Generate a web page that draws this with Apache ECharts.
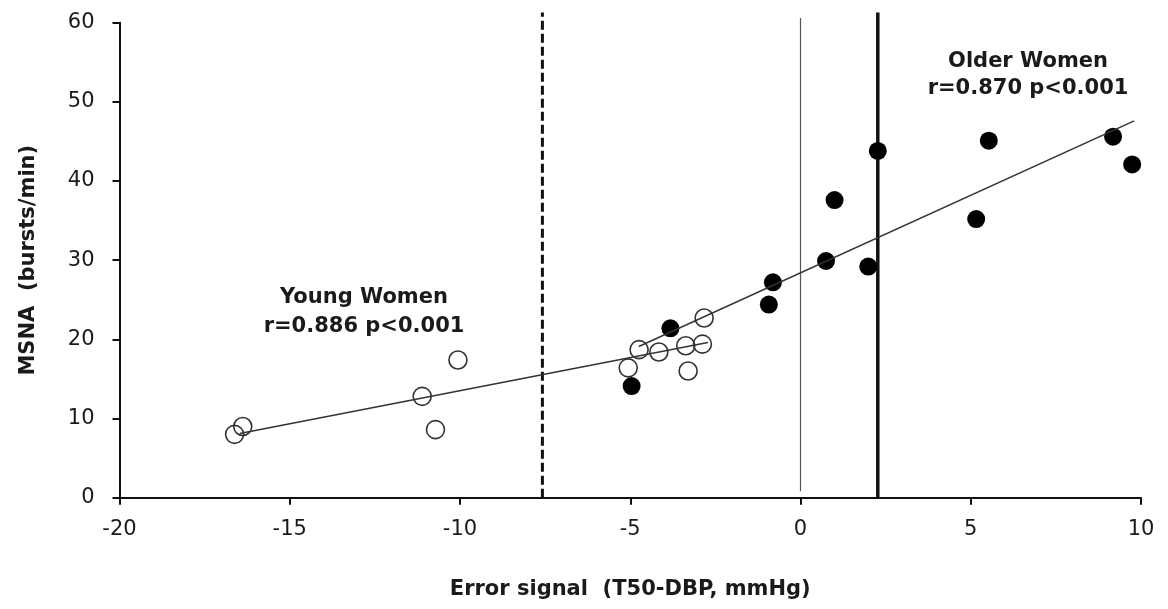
<!DOCTYPE html>
<html><head><meta charset="utf-8">
<script src="https://cdn.jsdelivr.net/npm/echarts@6/dist/echarts.min.js"></script>
<style>html,body{margin:0;padding:0;background:#fff}#c{width:1168px;height:609px}</style>
</head><body><div id="c"></div>
<script>
// Young women (open circles): [error signal, MSNA]
const youngPoints = [
  [-16.62, 8.0], [-16.38, 9.0], [-11.11, 12.8], [-10.72, 8.6], [-10.06, 17.4],
  [-5.06, 16.4], [-4.74, 18.7], [-4.16, 18.4], [-3.37, 19.2], [-3.30, 16.0],
  [-2.88, 19.4], [-2.83, 22.7]
];
// Older women (filled circles)
const olderPoints = [
  [-4.96, 14.1], [-3.82, 21.4], [-0.93, 24.4], [-0.81, 27.2], [0.75, 29.9],
  [1.0, 37.6], [1.99, 29.2], [2.27, 43.8], [5.16, 35.2], [5.53, 45.1],
  [9.18, 45.6], [9.74, 42.1]
];
// Regression line endpoints
const youngFit = [[-16.47, 8.1], [-2.72, 19.6]];
const olderFit = [[-4.75, 19.1], [9.8, 47.6]];
// Reference vertical lines: x positions and extents
const dashedLineX = -7.58;
const thickLineX = 2.27;
const zeroLineX = 0;
const refTop = 61.3;
const xTicks = { min: -20, max: 10, interval: 5 };
const yTicks = { min: 0, max: 60, interval: 10 };

const FONT = 'DejaVu Sans';
const chart = echarts.init(document.getElementById('c'), null, { renderer: 'canvas' });
chart.setOption({
  animation: false,
  backgroundColor: '#fff',
  grid: { left: 119.5, right: 27, top: 22.7, bottom: 111.3, containLabel: false },
  xAxis: {
    type: 'value', min: xTicks.min, max: xTicks.max, interval: xTicks.interval,
    name: 'Error signal  (T50-DBP, mmHg)', nameLocation: 'middle', nameGap: 81,
    nameTextStyle: { fontFamily: FONT, fontWeight: 'bold', fontSize: 21, color: '#1a1a1a' },
    axisLine: { onZero: false, lineStyle: { color: '#111', width: 2 } },
    axisTick: { inside: false, length: 7, lineStyle: { color: '#111', width: 2 } },
    axisLabel: { margin: 21, fontFamily: FONT, fontSize: 21, color: '#1a1a1a' },
    splitLine: { show: false }
  },
  yAxis: {
    type: 'value', min: yTicks.min, max: yTicks.max, interval: yTicks.interval,
    name: 'MSNA  (bursts/min)', nameLocation: 'middle', nameGap: 80,
    nameTextStyle: { fontFamily: FONT, fontWeight: 'bold', fontSize: 21, color: '#1a1a1a' },
    axisLine: { onZero: false, lineStyle: { color: '#111', width: 2 } },
    axisTick: { inside: false, length: 7, lineStyle: { color: '#111', width: 2 } },
    axisLabel: { margin: 25, fontFamily: FONT, fontSize: 21, color: '#1a1a1a' },
    splitLine: { show: false }
  },
  series: [
    { type: 'line', data: [[dashedLineX, 0], [dashedLineX, refTop]], showSymbol: false, clip: false,
      lineStyle: { color: '#111', width: 3, type: [9, 4] }, z: 1 },
    { type: 'line', data: [[zeroLineX, 0.8], [zeroLineX, 60.6]], showSymbol: false, clip: false,
      lineStyle: { color: '#555', width: 1.2 }, z: 1 },
    { type: 'line', data: [[thickLineX, 0], [thickLineX, refTop]], showSymbol: false, clip: false,
      lineStyle: { color: '#111', width: 3.5 }, z: 1 },
    { type: 'scatter', data: olderPoints, symbol: 'circle', symbolSize: 18,
      itemStyle: { color: '#000', opacity: 1 }, z: 3 },
    { type: 'scatter', data: youngPoints, symbol: 'circle', symbolSize: 18,
      itemStyle: { color: 'rgba(255,255,255,0)', borderColor: '#333', borderWidth: 1.6, opacity: 1 }, z: 3 },
    { type: 'line', data: youngFit, showSymbol: false, lineStyle: { color: '#333', width: 1.5 }, z: 4 },
    { type: 'line', data: olderFit, showSymbol: false, lineStyle: { color: '#333', width: 1.5 }, z: 4 }
  ],
  graphic: [
    { type: 'text', position: [364, 312],
      style: { text: 'Young Women\nr=0.886 p<0.001', fontFamily: FONT, fontWeight: 'bold', fontSize: 21,
        fill: '#1a1a1a', align: 'center', verticalAlign: 'middle', lineHeight: 29 } },
    { type: 'text', position: [1028, 75],
      style: { text: 'Older Women\nr=0.870 p<0.001', fontFamily: FONT, fontWeight: 'bold', fontSize: 21,
        fill: '#1a1a1a', align: 'center', verticalAlign: 'middle', lineHeight: 27 } }
  ]
});
</script></body></html>
